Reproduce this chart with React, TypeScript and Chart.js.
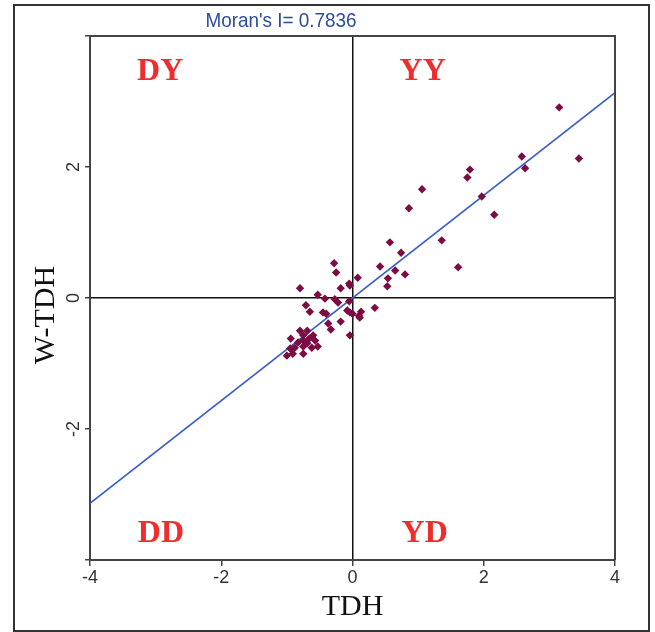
import React, { useEffect, useRef } from 'react';
import { Chart, registerables } from 'chart.js';
Chart.register(...registerables);

// Observations: standardized TDH (x) and its spatial lag W-TDH (y)
const tdh = [
  3.15, 3.45, 2.58, 2.63, 1.79, 1.75, 1.97, 2.16, 1.06, 0.86,
  1.36, 1.61, 0.57, 0.74, 0.42, 0.65, 0.80, 0.54, 0.53, -0.28,
  -0.25, 0.08, -0.05, -0.04, -0.18, -0.80, -0.53, -0.42, -0.27, -0.22,
  -0.05, -0.71, -0.65, -0.45, -0.40, -0.08, -0.04, 0.13, 0.34, 0.10,
  0.00, 0.11, -0.18, -0.37, -0.33, -0.04, -0.80, -0.94, -0.75, -0.69,
  -0.60, -0.75, -0.66, -0.57, -0.53, -0.62, -0.75, -0.83, -0.88, -0.91,
  -1.00, -0.75, -0.95, -0.69,
];
const wTdh = [
  2.91, 2.13, 2.16, 1.98, 1.96, 1.84, 1.55, 1.27, 1.66, 1.37,
  0.88, 0.47, 0.85, 0.69, 0.48, 0.42, 0.36, 0.30, 0.18, 0.53,
  0.39, 0.31, 0.22, 0.19, 0.15, 0.15, 0.05, -0.01, -0.02, -0.07,
  -0.05, -0.11, -0.21, -0.22, -0.24, -0.19, -0.22, -0.21, -0.15, -0.27,
  -0.24, -0.30, -0.36, -0.39, -0.48, -0.57, -0.50, -0.62, -0.57, -0.50,
  -0.57, -0.65, -0.62, -0.65, -0.74, -0.76, -0.74, -0.68, -0.76, -0.85,
  -0.88, -0.85, -0.77, -0.69,
];
const moranI = 0.7836;
const fitX = [-4, 4];
const axisMin = -4;
const axisMax = 4;
const axisStep = 2;
const quadrantLabels = ['DY', 'YY', 'DD', 'YD'];
const quadrantX = [-2.93, 1.07, -2.92, 1.1];
const quadrantY = [3.45, 3.45, -3.6, -3.6];
const titleText = "Moran's I= " + moranI.toFixed(4);
const xTitle = 'TDH';
const yTitle = 'W-TDH';

const NARROW = '"Liberation Sans Narrow", "Arial Narrow", "Liberation Sans", sans-serif';
const SERIF = '"Liberation Serif", "Times New Roman", serif';

const overlay = {
  id: 'overlay',
  afterDatasetsDraw(chart: any) {
    const { ctx, chartArea, scales } = chart;
    ctx.save();
    // frame top/right
    ctx.strokeStyle = '#444';
    ctx.lineWidth = 2;
    ctx.beginPath();
    ctx.moveTo(chartArea.left, chartArea.top);
    ctx.lineTo(chartArea.right, chartArea.top);
    ctx.lineTo(chartArea.right, chartArea.bottom);
    ctx.stroke();
    // quadrant labels
    ctx.fillStyle = '#ee2e2e';
    ctx.font = 'bold 32px ' + SERIF;
    ctx.textAlign = 'center';
    ctx.textBaseline = 'middle';
    quadrantLabels.forEach((t, i) => {
      ctx.fillText(t, scales.x.getPixelForValue(quadrantX[i]), scales.y.getPixelForValue(quadrantY[i]));
    });
    ctx.restore();
  },
  afterDraw(chart: any) {
    const { ctx, chartArea } = chart;
    ctx.save();
    ctx.fillStyle = '#2d4c9c';
    ctx.font = '21px ' + NARROW;
    ctx.textAlign = 'center';
    ctx.textBaseline = 'middle';
    ctx.save();
    ctx.translate(chartArea.left + 191, 15);
    ctx.scale(0.9, 1);
    ctx.fillText(titleText, 0, 0);
    ctx.restore();
    ctx.fillStyle = '#111';
    ctx.font = '30px ' + SERIF;
    ctx.fillText(xTitle, (chartArea.left + chartArea.right) / 2, 601);
    ctx.translate(31, 309);
    ctx.rotate(-Math.PI / 2);
    ctx.fillText(yTitle, 0, 0);
    ctx.restore();
  },
};

export default function App() {
  const ref = useRef<HTMLCanvasElement>(null);
  useEffect(() => {
    if (!ref.current) return;
    const zeroGrid = (c: any) => (c.tick && c.tick.value === 0 ? '#111' : 'rgba(0,0,0,0)');
    const chart = new Chart(ref.current, {
      type: 'scatter',
      data: {
        datasets: [
          {
            type: 'scatter',
            data: tdh.map((x, i) => ({ x, y: wTdh[i] })),
            pointStyle: 'rectRot',
            pointRadius: 4.2,
            backgroundColor: '#7b0d42',
            borderColor: '#7b0d42',
            borderWidth: 0,
            order: 1,
          },
          {
            type: 'line',
            data: fitX.map((x) => ({ x, y: x * moranI })),
            borderColor: '#3a5fcd',
            borderWidth: 1.5,
            pointRadius: 0,
            fill: false,
            order: 2,
          } as any,
        ],
      },
      options: {
        responsive: false,
        animation: false,
        layout: { padding: { top: 30, right: 33, left: 0, bottom: 0 } },
        plugins: { legend: { display: false }, tooltip: { enabled: false }, title: { display: false } },
        scales: {
          x: {
            type: 'linear',
            min: axisMin,
            max: axisMax,
            ticks: { stepSize: axisStep, color: '#333', font: { family: NARROW, size: 18 }, padding: 1 },
            grid: { color: zeroGrid, lineWidth: 1.5, tickColor: '#444', tickLength: 6, drawTicks: true },
            border: { display: true, color: '#444', width: 2 },
            afterFit: (s: any) => { s.height = 70; },
          },
          y: {
            type: 'linear',
            min: axisMin,
            max: axisMax,
            ticks: {
              stepSize: axisStep,
              color: '#333',
              font: { family: NARROW, size: 18 },
              minRotation: 90,
              maxRotation: 90,
              crossAlign: 'center',
              padding: 3,
              callback: (v: any) => (v === axisMin || v === axisMax ? '' : String(v)),
            },
            grid: { color: zeroGrid, lineWidth: 1.5, tickColor: '#444', tickLength: 5, drawTicks: true },
            border: { display: true, color: '#444', width: 2 },
            afterFit: (s: any) => { s.width = 75; },
          },
        },
      },
      plugins: [overlay],
    });
    return () => chart.destroy();
  }, []);
  return (
    <div
      style={{
        position: 'absolute',
        left: 13,
        top: 4,
        width: 637,
        height: 628,
        border: '2px solid #333',
        boxSizing: 'border-box',
        background: '#fff',
      }}
    >
      <canvas ref={ref} width={633} height={624} style={{ display: 'block', width: 633, height: 624 }} />
    </div>
  );
}
